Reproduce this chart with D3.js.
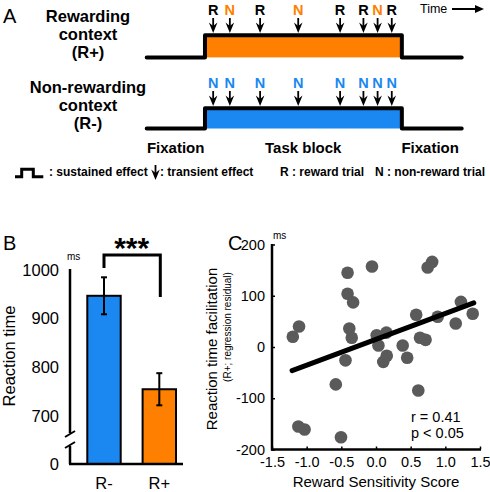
<!DOCTYPE html>
<html><head><meta charset="utf-8">
<script src="https://cdn.jsdelivr.net/npm/d3@7"></script>
<style>
body{margin:0;background:#fff;}
svg{display:block;font-family:"Liberation Sans",Arial,sans-serif;}
</style></head>
<body><svg id="c" width="490" height="492"></svg>
<script>
// ---------- Panel A data ----------
const timeDomain = [0, 100];
const blockOn = 18.5, blockOff = 81;
const trialTimes = [21.1, 26.4, 36, 48.1, 61.4, 68.8, 73.3, 77.8];
const rewardContextTrials = ['R','N','R','N','R','R','N','R'];
const nonRewardContextTrials = ['N','N','N','N','N','N','N','N'];
const phaseLabels = ['Fixation','Task block','Fixation'];
const phaseTimes = [9.2, 49.7, 90];

// ---------- Panel B data ----------
const conditions = ['R-','R+'];
const meanRT = [947, 755];
const semRT = [38, 33];
const yTicksB = [0, 700, 800, 900, 1000];

// ---------- Panel C data ----------
const sensitivity = [-1.20,-1.11,-1.12,-1.03,-0.41,-0.41,-0.33,-0.385,-0.35,-0.44,-0.58,-0.505,-0.058,0.01,0.035,0.15,0.155,0.105,0.385,0.45,0.58,0.635,0.715,0.61,0.745,0.81,0.89,1.15,1.225,1.395];
const facilitation = [20,40,-155,-161,145,104,87,36,18,-26,-73,-176,157,23,3,28,-17,-29,3,-21,63,18,14,-85,155,166,59,46,88,65];
const regX = [-1.21, 1.41];
const regY = [-46, 86];
const xTicksC = [-1.5,-1.0,-0.5,0,0.5,1.0,1.5];
const yTicksC = [-200,-100,0,100,200];

const ORANGE = '#ff8000', BLUE = '#1a88f0', DOT = '#5a5a5a';
const FONT = '"Liberation Sans",Arial,sans-serif';
const svg = d3.select('#c');

// ================= Panel A =================
const xT = d3.scaleLinear().domain(timeDomain).range([146.7, 461.7]);
svg.append('text').attr('x',3).attr('y',23).attr('font-size',20).text('A');

function arrowHead(g, x, y0){
  g.append('line').attr('x1',x).attr('x2',x).attr('y1',y0).attr('y2',y0+8)
    .attr('stroke','#000').attr('stroke-width',1.8);
  g.append('path').attr('d',`M${x-4.3},${y0+4.5}L${x},${y0+8}L${x+4.3},${y0+4.5}L${x},${y0+15}Z`).attr('fill','#000');
}
function row(opts){
  const g = svg.append('g');
  g.append('rect').attr('x',xT(blockOn)).attr('y',opts.top)
    .attr('width',xT(blockOff)-xT(blockOn)).attr('height',opts.base-opts.top).attr('fill',opts.fill);
  const pts = [[timeDomain[0],opts.base],[blockOn,opts.base],[blockOn,opts.top],[blockOff,opts.top],[blockOff,opts.base],[timeDomain[1],opts.base]];
  g.append('path').attr('d', d3.line().x(d=>xT(d[0])).y(d=>d[1])(pts))
    .attr('fill','none').attr('stroke','#000').attr('stroke-width',4).attr('stroke-linejoin','round').attr('stroke-linecap','round');
  trialTimes.forEach((t,i)=>{
    const lab = opts.trials[i];
    g.append('text').attr('x',xT(t)).attr('y',opts.letterY).attr('text-anchor','middle')
      .attr('font-size',14.5).attr('font-weight','bold')
      .attr('fill', lab==='R' ? '#000' : opts.nColor).text(lab);
    arrowHead(g, xT(t), opts.arrowY);
  });
  opts.title.forEach((s,i)=>{
    g.append('text').attr('x',88).attr('y',opts.titleY+i*18).attr('text-anchor','middle')
      .attr('font-size',16.5).attr('font-weight','bold').text(s);
  });
}
row({top:35.3, base:57.4, fill:ORANGE, trials:rewardContextTrials, nColor:ORANGE, letterY:15, arrowY:18, titleY:21.5, title:['Rewarding','context','(R+)']});
row({top:108.3, base:128.5, fill:BLUE, trials:nonRewardContextTrials, nColor:BLUE, letterY:87.5, arrowY:91, titleY:93, title:['Non-rewarding','context','(R-)']});

phaseLabels.forEach((s,i)=>{
  svg.append('text').attr('x',xT(phaseTimes[i])).attr('y',153).attr('text-anchor','middle')
    .attr('font-size',15).attr('font-weight','bold').text(s);
});
// time arrow
svg.append('text').attr('x',420).attr('y',13).attr('font-size',12.5).text('Time');
svg.append('line').attr('x1',452).attr('x2',478).attr('y1',9).attr('y2',9).attr('stroke','#000').attr('stroke-width',2);
svg.append('path').attr('d','M475,5L484,9L475,13Z').attr('fill','#000');

// legend
svg.append('path').attr('d','M15,176.7H21.7V169.3H33.3V176.7H43.3').attr('fill','none').attr('stroke','#000').attr('stroke-width',3);
const legSize = 12;
svg.append('text').attr('x',49).attr('y',176).attr('font-size',legSize).attr('font-weight','bold').text(': sustained effect');
arrowHead(svg, 155.5, 165);
svg.append('text').attr('x',160).attr('y',176).attr('font-size',legSize).attr('font-weight','bold').text(': transient effect');
svg.append('text').attr('x',280).attr('y',176).attr('font-size',legSize).attr('font-weight','bold').text('R : reward trial');
svg.append('text').attr('x',375).attr('y',176).attr('font-size',legSize).attr('font-weight','bold').text('N : non-reward trial');

// ================= Panel B =================
svg.append('text').attr('x',3).attr('y',250).attr('font-size',20).text('B');
const yB = d3.scaleLinear().domain([0, 650, 1000]).range([464, 440.35, 270]);
const xB = d3.scaleBand().domain(conditions).range([70.7, 192.6]).paddingInner(0.396).paddingOuter(0.3);
const gB = svg.append('g');
const axB = gB.append('g').attr('transform','translate(70,0)')
  .call(d3.axisLeft(yB).tickValues(yTicksB).tickSize(0).tickPadding(11).tickFormat(d3.format('d')));
axB.select('.domain').remove();
axB.selectAll('text').attr('font-size',16.5).attr('font-family',FONT).attr('fill','#000');
// broken y axis
gB.append('line').attr('x1',70).attr('x2',70).attr('y1',yB(1000)-1).attr('y2',433).attr('stroke','#000').attr('stroke-width',2.5);
gB.append('line').attr('x1',70).attr('x2',70).attr('y1',446).attr('y2',yB(0)).attr('stroke','#000').attr('stroke-width',2.5);
gB.append('line').attr('x1',65).attr('x2',75).attr('y1',437).attr('y2',431).attr('stroke','#000').attr('stroke-width',2);
gB.append('line').attr('x1',65).attr('x2',75).attr('y1',448).attr('y2',442).attr('stroke','#000').attr('stroke-width',2);
// bars
gB.selectAll('rect.bar').data(conditions).join('rect').attr('class','bar')
  .attr('x',d=>xB(d)).attr('width',xB.bandwidth())
  .attr('y',(d,i)=>yB(meanRT[i])).attr('height',(d,i)=>yB(0)-yB(meanRT[i]))
  .attr('fill',(d,i)=>i===0?BLUE:ORANGE).attr('stroke','#000').attr('stroke-width',2);
// error bars
conditions.forEach((c,i)=>{
  const cx = xB(c)+xB.bandwidth()/2;
  const lo = yB(meanRT[i]-semRT[i]), hi = yB(meanRT[i]+semRT[i]);
  gB.append('line').attr('x1',cx).attr('x2',cx).attr('y1',lo).attr('y2',hi).attr('stroke','#000').attr('stroke-width',2);
  [lo,hi].forEach(y=>gB.append('line').attr('x1',cx-3).attr('x2',cx+3).attr('y1',y).attr('y2',y).attr('stroke','#000').attr('stroke-width',2));
});
// x axis B
gB.append('line').attr('x1',69).attr('x2',183).attr('y1',yB(0)).attr('y2',yB(0)).attr('stroke','#000').attr('stroke-width',2.5);
conditions.forEach(c=>{
  gB.append('text').attr('x',xB(c)+xB.bandwidth()/2).attr('y',489).attr('text-anchor','middle').attr('font-size',16.5).text(c);
});
gB.append('text').attr('x',67).attr('y',260).attr('font-size',10).text('ms');
gB.append('text').attr('transform','translate(15,356) rotate(-90)').attr('text-anchor','middle').attr('font-size',16.5).text('Reaction time');
// significance
const c0 = xB(conditions[0])+xB.bandwidth()/2, c1 = xB(conditions[1])+xB.bandwidth()/2;
gB.append('path').attr('d',`M${c0},268V255H${c1+1}V297`).attr('fill','none').attr('stroke','#000').attr('stroke-width',3);
gB.append('text').attr('x',(c0+c1)/2).attr('y',258).attr('text-anchor','middle').attr('font-size',30).attr('font-weight','bold').text('***');

// ================= Panel C =================
svg.append('text').attr('x',228).attr('y',250).attr('font-size',20).text('C');
const xC = d3.scaleLinear().domain([-1.5,1.5]).range([272,480]);
const yC = d3.scaleLinear().domain([-200,200]).range([449.5,244.5]);
const gC = svg.append('g');
const axX = gC.append('g').attr('transform','translate(0,449.5)')
  .call(d3.axisBottom(xC).tickValues(xTicksC).tickSize(-3).tickPadding(7).tickFormat(d=>d3.format('.1f')(d).replace('\u2212','-')));
const axY = gC.append('g').attr('transform','translate(272,0)')
  .call(d3.axisLeft(yC).tickValues(yTicksC).tickSize(-3).tickPadding(7).tickFormat(d=>String(d)));
[axX,axY].forEach(a=>{
  a.select('.domain').remove();
  a.selectAll('.tick line').attr('stroke','#000').attr('stroke-width',1.5);
  a.selectAll('text').attr('font-size',14.5).attr('font-family',FONT).attr('fill','#000');
});
gC.append('line').attr('x1',272).attr('x2',272).attr('y1',244).attr('y2',450.5).attr('stroke','#000').attr('stroke-width',2.5);
gC.append('line').attr('x1',271).attr('x2',481).attr('y1',449.5).attr('y2',449.5).attr('stroke','#000').attr('stroke-width',2.5);
// dots
gC.selectAll('circle').data(sensitivity).join('circle')
  .attr('cx',d=>xC(d)).attr('cy',(d,i)=>yC(facilitation[i])).attr('r',6.3).attr('fill',DOT);
// regression line
gC.append('line').attr('x1',xC(regX[0])).attr('y1',yC(regY[0])).attr('x2',xC(regX[1])).attr('y2',yC(regY[1]))
  .attr('stroke','#000').attr('stroke-width',5).attr('stroke-linecap','round');
gC.append('text').attr('x',411).attr('y',422).attr('font-size',14.5).text('r = 0.41');
gC.append('text').attr('x',411).attr('y',437.5).attr('font-size',14.5).text('p < 0.05');
gC.append('text').attr('x',273).attr('y',239).attr('font-size',10).text('ms');
gC.append('text').attr('x',376).attr('y',487).attr('text-anchor','middle').attr('font-size',15).text('Reward Sensitivity Score');
gC.append('text').attr('transform','translate(217,349) rotate(-90)').attr('text-anchor','middle').attr('font-size',15).text('Reaction time facilitation');
gC.append('text').attr('transform','translate(231,327) rotate(-90)').attr('text-anchor','middle').attr('font-size',10).text('(R+; regression residual)');
</script></body></html>
